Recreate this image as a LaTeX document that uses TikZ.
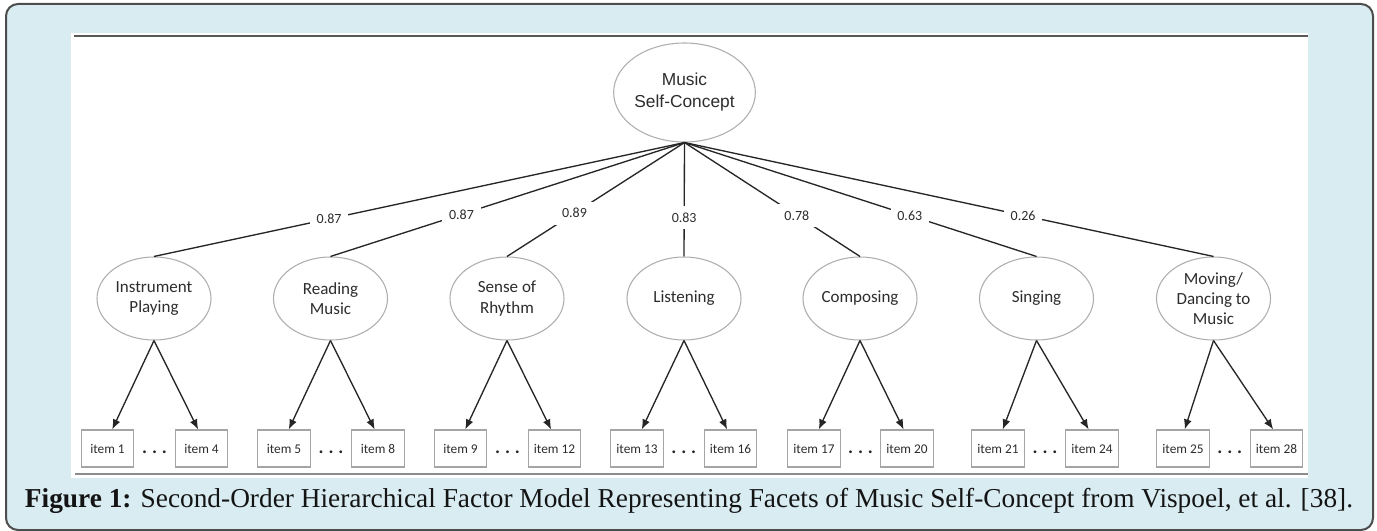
\documentclass[tikz,border=0pt]{standalone}
\usepackage{fontspec}
\setmainfont{Carlito}
\newfontfamily\arialfont{Liberation Sans}
\newfontfamily\capfont{Liberation Serif}
\usepackage{graphicx}
\usetikzlibrary{calc}
\usetikzlibrary{shapes}
\usetikzlibrary{arrows.meta}

\definecolor{panelblue}{RGB}{216,236,241}
\definecolor{paneledge}{RGB}{77,77,77}
\definecolor{ovalgray}{RGB}{175,175,175}
\definecolor{boxgray}{RGB}{165,165,165}
\definecolor{inkgray}{RGB}{45,45,45}

\tikzset{
  facet/.style={shape=ellipse, draw=ovalgray, line width=0.8pt, fill=white, inner sep=0pt,
    minimum width=85.5pt, minimum height=62.25pt, align=center, text=inkgray,
    font=\fontsize{12.75pt}{15.25pt}\selectfont},
  concept/.style={facet, minimum width=101.25pt, minimum height=74.25pt,
    font=\arialfont\fontsize{13pt}{16.5pt}\selectfont},
  itembox/.style={shape=rectangle, draw=boxgray, line width=0.9pt, fill=white, inner sep=0pt,
    minimum width=39.4pt, minimum height=27.75pt, text=inkgray, font=\fontsize{10pt}{12pt}\selectfont},
  loading/.style={fill=white, inner sep=5pt, text=inkgray, font=\fontsize{10.5pt}{12pt}\selectfont},
  dotsep/.style={inner sep=0pt, text=black!85, font=\fontsize{14pt}{14pt}\selectfont\bfseries},
  link/.style={draw=black!85, line width=1pt},
  pointer/.style={draw=black!85, line width=1pt, -{Latex[length=7.5pt,width=6pt]}}
}

\newcommand{\facet}[3]{\node[facet] (#1) at ( #2 , 298.5 ) {#3};}
\newcommand{\itembox}[3]{\node[itembox] (#1) at ( #2 , 448.5 ) {#3};}
\newcommand{\itemdots}[3]{\node[dotsep, anchor=base] (#1) at ($(#2.base)!0.5!(#3.base)$) {.\hspace{3.6pt}.\hspace{3.6pt}.};}

\begin{document}
\begin{tikzpicture}[x=0.75pt, y=-0.75pt]
                \useasboundingbox (0,0) rectangle (1377,531);

                % panel
                \draw[paneledge, line width=1.5pt, fill=panelblue, rounded corners=9pt] (6,4) rectangle (1373,530);
                \fill[white] (71,33) rectangle (1308,478);
                \draw[line width=1.5pt, black!65] (74,36.5) -- (1308,36.5);
                \draw[line width=1.5pt, black!45] (75,474) -- (1308,474);

                % second-order factor
                \node[concept] (top) at ( 684.5 , 92.5 ) {Music\\Self-Concept};

                % first-order factors
                \facet{f1}{154}{Instrument\\Playing}
                \facet{f2}{330.5}{Reading\\Music}
                \facet{f3}{507}{Sense of\\Rhythm}
                \facet{f4}{684}{Listening}
                \facet{f5}{860}{Composing}
                \facet{f6}{1036.5}{Singing}
                \facet{f7}{1213.5}{Moving/\\Dancing to\\Music}

                % loadings
                \draw[link] (top.south) -- node[loading, pos=0.67] (l1) {0.87} (f1.north);
                \draw[link] (top.south) -- node[loading, pos=0.63] (l2) {0.87} (f2.north);
                \draw[link] (top.south) -- node[loading, pos=0.62] (l3) {0.89} (f3.north);
                \draw[link] (top.south) -- node[loading, pos=0.66] (l4) {0.83} (f4.north);
                \draw[link] (top.south) -- node[loading, pos=0.64] (l5) {0.78} (f5.north);
                \draw[link] (top.south) -- node[loading, pos=0.64] (l6) {0.63} (f6.north);
                \draw[link] (top.south) -- node[loading, pos=0.64] (l7) {0.26} (f7.north);

                % items
                \itembox{i1}{107.5}{item 1}
                \itembox{i4}{201.5}{item 4}
                \itembox{i5}{284}{item 5}
                \itembox{i8}{378}{item 8}
                \itembox{i9}{460.5}{item 9}
                \itembox{i12}{554.5}{item 12}
                \itembox{i13}{637}{item 13}
                \itembox{i16}{730.5}{item 16}
                \itembox{i17}{814}{item 17}
                \itembox{i20}{907}{item 20}
                \itembox{i21}{998}{item 21}
                \itembox{i24}{1092}{item 24}
                \itembox{i25}{1183}{item 25}
                \itembox{i28}{1276.5}{item 28}

                \itemdots{d1}{i1}{i4}
                \itemdots{d2}{i5}{i8}
                \itemdots{d3}{i9}{i12}
                \itemdots{d4}{i13}{i16}
                \itemdots{d5}{i17}{i20}
                \itemdots{d6}{i21}{i24}
                \itemdots{d7}{i25}{i28}

                % indicators
                \draw[pointer] (f1.south) -- (i1.76);
                \draw[pointer] (f1.south) -- (i4.100);
                \draw[pointer] (f2.south) -- (i5.76);
                \draw[pointer] (f2.south) -- (i8.100);
                \draw[pointer] (f3.south) -- (i9.76);
                \draw[pointer] (f3.south) -- (i12.100);
                \draw[pointer] (f4.south) -- (i13.76);
                \draw[pointer] (f4.south) -- (i16.100);
                \draw[pointer] (f5.south) -- (i17.76);
                \draw[pointer] (f5.south) -- (i20.100);
                \draw[pointer] (f6.south) -- (i21.76);
                \draw[pointer] (f6.south) -- (i24.100);
                \draw[pointer] (f7.south) -- (i25.85);
                \draw[pointer] (f7.south) -- (i28.100);

                % caption
                \node[anchor=base, text=black!92, inner sep=0pt] (cap) at ( 689 , 507 )
                  {\resizebox{996pt}{!}{\capfont\fontsize{18pt}{20pt}\selectfont\textbf{Figure 1:} Second-Order Hierarchical Factor Model Representing Facets of Music Self-Concept from Vispoel, et al. [38].}};
\end{tikzpicture}
\end{document}
